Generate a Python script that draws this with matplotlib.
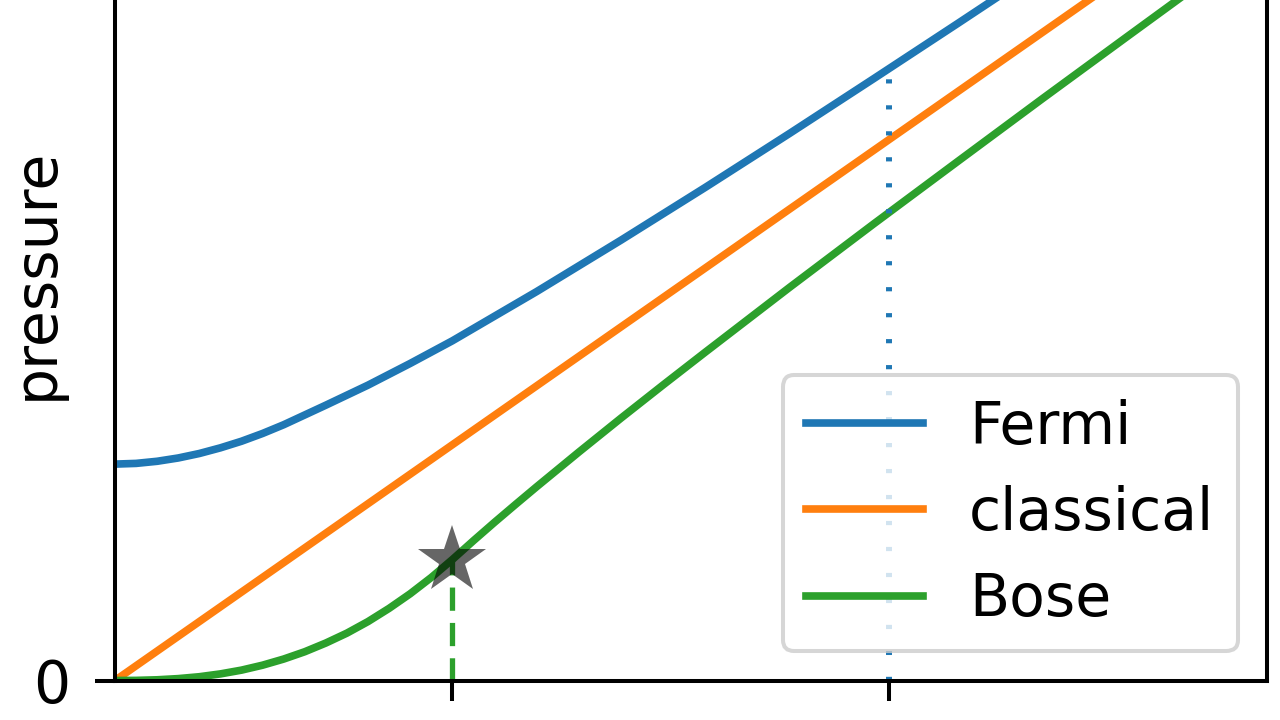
import matplotlib
matplotlib.use("Agg")
import matplotlib.pyplot as plt

# temperatures in units of the Bose condensation temperature
T_c = 1.0
T_F = 2.295

# Fermi gas pressure (units of n k T_c)
T_fermi = [0, 0.0625, 0.125, 0.1875, 0.25, 0.3125, 0.375, 0.4375, 0.5, 0.625,
           0.75, 0.875, 1.0, 1.25, 1.5, 1.75, 2.0, 2.25, 2.5, 2.75, 3.0, 3.25, 3.5]
P_fermi = [0.918, 0.921, 0.930, 0.944, 0.963, 0.987, 1.015, 1.048, 1.085, 1.168,
           1.253, 1.345, 1.441, 1.650, 1.868, 2.092, 2.321, 2.554, 2.789, 3.026,
           3.264, 3.504, 3.745]

# classical ideal gas
T_class = [0, 3.5]
P_class = [0, 3.5]

# Bose gas pressure
T_bose = [0, 0.0625, 0.125, 0.1875, 0.25, 0.3125, 0.375, 0.4375, 0.5, 0.5625,
          0.625, 0.6875, 0.75, 0.8125, 0.875, 0.9375, 1.0, 1.0625, 1.125, 1.1875,
          1.25, 1.375, 1.5, 1.625, 1.75, 2.0, 2.25, 2.5, 2.75, 3.0, 3.25, 3.5]
P_bose = [0, 0.0005, 0.003, 0.008, 0.016, 0.028, 0.044, 0.065, 0.091, 0.122,
          0.159, 0.201, 0.250, 0.306, 0.368, 0.437, 0.513, 0.593, 0.671, 0.747,
          0.822, 0.969, 1.113, 1.254, 1.393, 1.668, 1.938, 2.204, 2.469, 2.731,
          2.992, 3.250]

P_c = 0.513          # Bose pressure at T_c
P_F = 2.585          # Fermi pressure at T_F

lim = 3.415

fig = plt.figure(figsize=(12.8, 7.2), dpi=100)
ax = fig.add_axes([115 / 1280, 39.5 / 720, 1152 / 1280, 805 / 720])

fs = 42
lw = 5.5

ax.plot(T_fermi, P_fermi, color="C0", lw=lw, label="Fermi")
ax.plot(T_class, P_class, color="C1", lw=lw, label="classical")
ax.plot(T_bose, P_bose, color="C2", lw=lw, label="Bose")

ax.plot([T_c, T_c], [0, P_c], color="C2", lw=3.8, linestyle=(0, (4.4, 2.3)))
ax.plot([T_F, T_F], [0, P_F], color="C0", lw=4.3, linestyle=(0, (0.7, 3.65)))
ax.plot(T_c, P_c, "*", color="k", alpha=0.6, ms=51, mew=0, zorder=5)

ax.set_xlim(0, lim)
ax.set_ylim(0, lim)
ax.set_xticks([T_c, T_F])
ax.set_xticklabels(["", ""])
ax.set_yticks([0])
ax.set_yticklabels(["0"])
ax.tick_params(length=14.5, width=2.9, pad=18, labelsize=fs)
for s in ax.spines.values():
    s.set_linewidth(2.9)

ax.set_ylabel("pressure", fontsize=fs)
ax.yaxis.set_label_coords(-0.0434, 0.505)

leg = ax.legend(loc="lower right", fontsize=fs)
leg.get_frame().set_linewidth(2.9)

fig.savefig("out.png", dpi=100)
